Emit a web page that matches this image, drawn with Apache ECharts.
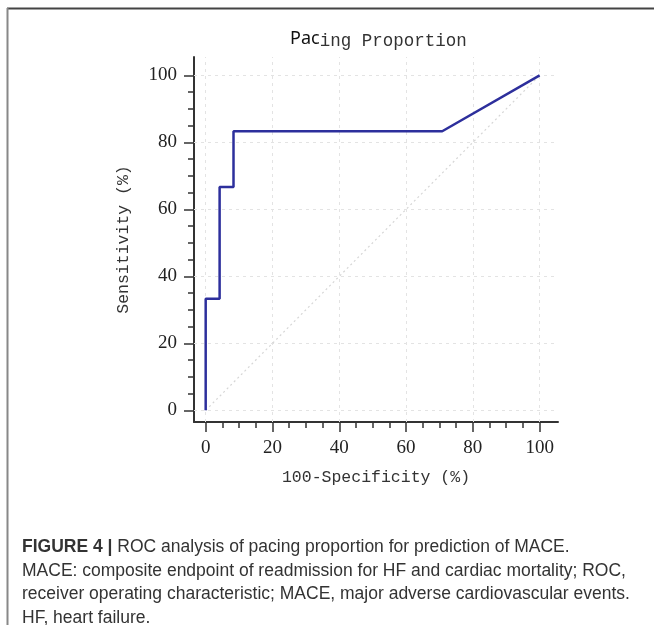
<!DOCTYPE html>
<html>
<head>
<meta charset="utf-8">
<script src="https://cdn.jsdelivr.net/npm/echarts@6/dist/echarts.min.js"></script>
<style>
html,body{margin:0;padding:0;background:#fff;}
#chart{width:654px;height:625px;}
</style>
</head>
<body>
<div id="chart"></div>
<script>
// ROC curve points (100-Specificity %, Sensitivity %)
var rocX = [0, 0, 4.17, 4.17, 8.33, 8.33, 70.83, 100];
var rocY = [0, 33.33, 33.33, 66.67, 66.67, 83.33, 83.33, 100];
// reference diagonal
var diagX = [0, 100];
var diagY = [0, 100];
// tick labels / tick positions
var majorTicks = [0, 20, 40, 60, 80, 100];
var minorTicks = [0, 5, 10, 15, 20, 25, 30, 35, 40, 45, 50, 55, 60, 65, 70, 75, 80, 85, 90, 95, 100];
var titleHead = 'Pac';
var titleTail = 'ing Proportion';
var xName = '100-Specificity (%)';
var yName = 'Sensitivity (%)';
var captionBold = 'FIGURE 4 |';
var captionLines = [
  ' ROC analysis of pacing proportion for prediction of MACE.',
  'MACE: composite endpoint of readmission for HF and cardiac mortality; ROC,',
  'receiver operating characteristic; MACE, major adverse cardiovascular events.',
  'HF, heart failure.'
];

var AXMIN = -3.5, AXMAX = 105.5;
var axisColor = '#333333';
var monoFont = '"Liberation Mono", "DejaVu Sans Mono", monospace';
var serifFont = '"Liberation Serif", "DejaVu Serif", serif';

function pairs(xs, ys) { return xs.map(function (x, i) { return [x, ys[i]]; }); }

var gridMarks = majorTicks.map(function (v) { return { xAxis: v }; })
  .concat(majorTicks.map(function (v) { return { yAxis: v }; }));

function mainAxis(isX) {
  return {
    type: 'value', min: AXMIN, max: AXMAX,
    position: isX ? 'bottom' : 'left',
    name: isX ? xName : yName,
    nameLocation: 'middle',
    nameGap: isX ? 47 : 62,
    nameTextStyle: { fontFamily: monoFont, fontSize: 16.5, color: '#333' },
    axisLine: { show: true, onZero: false, lineStyle: { color: axisColor, width: 2 } },
    axisTick: { show: true, customValues: majorTicks, length: 10, lineStyle: { color: axisColor, width: 1.5 } },
    axisLabel: { show: true, customValues: majorTicks, margin: 17, fontFamily: serifFont, fontSize: 19, color: '#222' },
    splitLine: { show: false }
  };
}
function minorAxis(isX) {
  return {
    type: 'value', min: AXMIN, max: AXMAX,
    position: isX ? 'bottom' : 'left',
    axisLine: { show: false, onZero: false },
    axisTick: { show: true, customValues: minorTicks, length: 6, lineStyle: { color: axisColor, width: 1.5 } },
    axisLabel: { show: false },
    splitLine: { show: false }
  };
}

var captionRich = {
  b: { fontFamily: '"Liberation Sans", Arial, sans-serif', fontWeight: 'bold', fontSize: 17.5, fill: '#333' },
  n: { fontFamily: '"Liberation Sans", Arial, sans-serif', fontSize: 17.5, fill: '#333' }
};
var captionGraphics = captionLines.map(function (line, i) {
  var txt = i === 0 ? '{b|' + captionBold + '}{n|' + line + '}' : '{n|' + line + '}';
  return {
    type: 'text', left: 22, top: 538 + i * 23.7,
    style: { text: txt, rich: captionRich, fill: '#333' }
  };
});

var chart = echarts.init(document.getElementById('chart'), null, { renderer: 'canvas' });
chart.setOption({
  backgroundColor: '#ffffff',
  animation: false,
  title: {
    text: '{a|' + titleHead + '}{b|' + titleTail + '}',
    left: 285, top: 22,
    textStyle: {
      fontWeight: 'normal',
      rich: {
        a: { fontFamily: '"Noto Sans", "Open Sans", sans-serif', fontSize: 18, fontWeight: 'normal', color: '#111' },
        b: { fontFamily: monoFont, fontSize: 17.5, fontWeight: 'normal', color: '#333', padding: [5, 0, 0, 0] }
      }
    }
  },
  grid: { left: 194, right: 96, top: 57, bottom: 203, containLabel: false },
  xAxis: [mainAxis(true), minorAxis(true)],
  yAxis: [mainAxis(false), minorAxis(false)],
  series: [
    {
      type: 'line', xAxisIndex: 0, yAxisIndex: 0,
      data: pairs(diagX, diagY), symbol: 'none', silent: true,
      lineStyle: { color: '#d6d6d6', width: 1.2, type: [2, 3] },
      markLine: {
        silent: true, symbol: ['none', 'none'], label: { show: false }, z: 1,
        lineStyle: { color: '#e3e3e3', width: 1, type: [3, 4] },
        data: gridMarks
      },
      z: 1
    },
    {
      type: 'line', xAxisIndex: 0, yAxisIndex: 0,
      data: pairs(rocX, rocY), symbol: 'none',
      lineStyle: { color: '#2d2f9c', width: 2.5 },
      z: 10
    }
  ],
  graphic: [
    { type: 'line', shape: { x1: 7, y1: 8.5, x2: 654, y2: 8.5 }, style: { stroke: '#444', lineWidth: 2 } },
    { type: 'line', shape: { x1: 7.5, y1: 8, x2: 7.5, y2: 625 }, style: { stroke: '#888', lineWidth: 2 } }
  ].concat(captionGraphics)
});
</script>
</body>
</html>
